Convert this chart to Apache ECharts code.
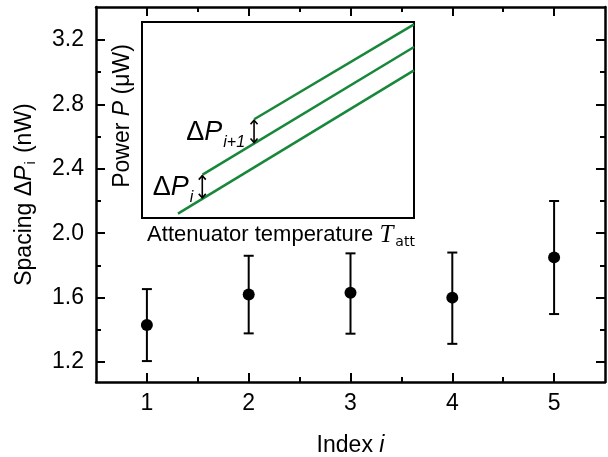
<!DOCTYPE html>
<html>
<head>
<meta charset="utf-8">
<script src="https://cdn.jsdelivr.net/npm/echarts@6/dist/echarts.min.js"></script>
<style>
  html, body { margin: 0; padding: 0; background: #fff; }
  #main { width: 608px; height: 457px; }
</style>
</head>
<body>
<div id="main"></div>
<script>
// main data: spacing per index
var indexValues = [1, 2, 3, 4, 5];
var spacingValues = [1.43, 1.62, 1.63, 1.60, 1.85];
var errLow = [1.206, 1.378, 1.376, 1.313, 1.498];
var errHigh = [1.653, 1.860, 1.875, 1.880, 2.200];

// tick labels
var xTicks = [1, 2, 3, 4, 5];
var xMinorTicks = [1.5, 2.5, 3.5, 4.5];
var yTicks = [1.2, 1.6, 2.0, 2.4, 2.8, 3.2];
var yMinorTicks = [1.4, 1.8, 2.2, 2.6, 3.0];

// inset (schematic) lines: start / end points
var insetLine1 = [[0.183, -0.188], [5.79, 3.89]];
var insetLine2 = [[0.767, 0.922], [5.79, 4.553]];
var insetLine3 = [[1.993, 2.496], [5.79, 5.199]];
// double arrows: x, y bottom, y top, label
var insetArrows = [[0.76, 0.231, 0.922, 'i'], [1.99, 1.806, 2.496, 'i+1']];
var insetTicks = [0, 1, 2, 3, 4, 5];

var FONT = 'Liberation Sans, Arial, sans-serif';
var GREEN = '#17873a';

var errData = [];
for (var i = 0; i < indexValues.length; i++) {
    errData.push([indexValues[i], errLow[i], errHigh[i]]);
}
var pointData = [];
for (var j = 0; j < indexValues.length; j++) {
    pointData.push([indexValues[j], spacingValues[j]]);
}

function tickAxis(opt) {
    // helper for the plain tick-only axes (mirror / minor)
    var a = {
        type: 'value',
        gridIndex: opt.grid || 0,
        position: opt.position,
        min: opt.min,
        max: opt.max,
        axisLine: { show: opt.line !== false, onZero: false, lineStyle: { color: '#000', width: opt.lineWidth || 2.5 } },
        axisTick: { show: true, inside: true, length: opt.len, customValues: opt.ticks, lineStyle: { color: '#000', width: opt.tickWidth || 2 } },
        axisLabel: { show: false },
        splitLine: { show: false }
    };
    return a;
}

var myChart = echarts.init(document.getElementById('main'));
var option = {
    animation: false,
    backgroundColor: '#fff',
    textStyle: { fontFamily: FONT },
    grid: [
        { left: 96, top: 7, right: 3, bottom: 75, outerBoundsMode: 'none', containLabel: false },
        { left: 142, top: 22, width: 272, height: 196, outerBoundsMode: 'none', containLabel: false, show: true, borderColor: '#000', borderWidth: 2, backgroundColor: '#fff', z: 5 }
    ],
    xAxis: [
        {
            type: 'value', gridIndex: 0, position: 'bottom', min: 0.5, max: 5.5,
            axisLine: { onZero: false, lineStyle: { color: '#000', width: 2.5 } },
            axisTick: { inside: true, length: 9, customValues: xTicks, lineStyle: { color: '#000', width: 2 } },
            axisLabel: { customValues: xTicks, color: '#000', fontSize: 23, fontFamily: FONT, margin: 10 },
            splitLine: { show: false },
            name: 'Index {i|i}',
            nameLocation: 'middle',
            nameGap: 52,
            nameTextStyle: { color: '#000', fontSize: 23, fontFamily: FONT, rich: { i: { fontSize: 23, fontStyle: 'italic', fontFamily: FONT } } }
        },
        tickAxis({ position: 'bottom', min: 0.5, max: 5.5, len: 5, ticks: xMinorTicks, line: false }),
        tickAxis({ position: 'top', min: 0.5, max: 5.5, len: 9, ticks: xTicks }),
        tickAxis({ position: 'top', min: 0.5, max: 5.5, len: 5, ticks: xMinorTicks, line: false }),
        {
            type: 'value', gridIndex: 1, position: 'bottom', min: -0.672, max: 5.79,
            axisLine: { onZero: false, lineStyle: { color: '#000', width: 2 } },
            axisTick: { inside: true, length: 4, customValues: insetTicks, lineStyle: { color: '#000', width: 1.5 } },
            axisLabel: { show: false },
            splitLine: { show: false },
            name: 'Attenuator temperature {t|T}{s|att}',
            nameLocation: 'middle',
            nameGap: 3,
            nameTextStyle: {
                color: '#000', fontSize: 22, fontFamily: FONT, padding: [0, 0, 0, 6],
                rich: {
                    t: { fontSize: 25, fontStyle: 'italic', fontFamily: 'Liberation Serif, serif', color: '#000' },
                    s: { fontSize: 14, fontFamily: 'DejaVu Sans, sans-serif', color: '#000', padding: [14, 0, 0, 2] }
                }
            }
        }
    ],
    yAxis: [
        {
            type: 'value', gridIndex: 0, position: 'left', min: 1.076, max: 3.405,
            axisLine: { show: true, onZero: false, lineStyle: { color: '#000', width: 2.5 } },
            axisTick: { show: true, inside: true, length: 9, customValues: yTicks, lineStyle: { color: '#000', width: 2 } },
            axisLabel: {
                customValues: yTicks, color: '#000', fontSize: 23, fontFamily: FONT, margin: 12,
                formatter: function (v) { return v.toFixed(1); }
            },
            splitLine: { show: false },
            name: 'Spacing \u0394{p|P}{s|i} (nW)',
            nameLocation: 'middle',
            nameGap: 58,
            nameTextStyle: {
                color: '#000', fontSize: 23, fontFamily: FONT,
                rich: {
                    p: { fontSize: 23, fontStyle: 'italic', fontFamily: FONT, color: '#000' },
                    s: { fontSize: 14, fontFamily: FONT, color: '#000', padding: [12, 2, 0, 1] }
                }
            }
        },
        tickAxis({ position: 'left', min: 1.076, max: 3.405, len: 5, ticks: yMinorTicks, line: false }),
        tickAxis({ position: 'right', min: 1.076, max: 3.405, len: 9, ticks: yTicks }),
        tickAxis({ position: 'right', min: 1.076, max: 3.405, len: 5, ticks: yMinorTicks, line: false }),
        {
            type: 'value', gridIndex: 1, position: 'left', min: -0.313, max: 5.265,
            axisLine: { show: true, onZero: false, lineStyle: { color: '#000', width: 2 } },
            axisTick: { show: true, inside: true, length: 4, customValues: insetTicks, lineStyle: { color: '#000', width: 1.5 } },
            axisLabel: { show: false },
            splitLine: { show: false },
            name: 'Power {p|P} (\u03bcW)',
            nameLocation: 'middle',
            nameGap: 8,
            nameTextStyle: {
                color: '#000', fontSize: 23, fontFamily: FONT, padding: [0, 0, 0, 8],
                rich: { p: { fontSize: 23, fontStyle: 'italic', fontFamily: FONT, color: '#000' } }
            }
        }
    ],
    series: [
        {
            // error bars
            type: 'custom',
            xAxisIndex: 0, yAxisIndex: 0,
            data: errData,
            encode: { x: 0, y: [1, 2] },
            renderItem: function (params, api) {
                var lo = api.coord([api.value(0), api.value(1)]);
                var hi = api.coord([api.value(0), api.value(2)]);
                var w = 5;
                var st = { stroke: '#000', lineWidth: 2 };
                return {
                    type: 'group',
                    children: [
                        { type: 'line', shape: { x1: lo[0], y1: lo[1], x2: hi[0], y2: hi[1] }, style: st },
                        { type: 'line', shape: { x1: lo[0] - w, y1: lo[1], x2: lo[0] + w, y2: lo[1] }, style: st },
                        { type: 'line', shape: { x1: hi[0] - w, y1: hi[1], x2: hi[0] + w, y2: hi[1] }, style: st }
                    ]
                };
            }
        },
        {
            type: 'scatter',
            xAxisIndex: 0, yAxisIndex: 0,
            data: pointData,
            symbol: 'circle',
            symbolSize: 12,
            itemStyle: { color: '#000', opacity: 1 },
            z: 3
        },
        { type: 'line', xAxisIndex: 4, yAxisIndex: 4, data: insetLine1, showSymbol: false, z: 6, lineStyle: { color: GREEN, width: 2.5 } },
        { type: 'line', xAxisIndex: 4, yAxisIndex: 4, data: insetLine2, showSymbol: false, z: 6, lineStyle: { color: GREEN, width: 2.5 } },
        { type: 'line', xAxisIndex: 4, yAxisIndex: 4, data: insetLine3, showSymbol: false, z: 6, lineStyle: { color: GREEN, width: 2.5 } },
        {
            // double arrows with the delta P labels
            type: 'custom',
            xAxisIndex: 4, yAxisIndex: 4,
            data: insetArrows,
            z: 7,
            renderItem: function (params, api) {
                var d = insetArrows[params.dataIndex];
                var b = api.coord([d[0], d[1]]);
                var t = api.coord([d[0], d[2]]);
                var x = b[0];
                var ah = 4, aw = 3.5;
                var st = { stroke: '#000', lineWidth: 1.6, fill: null };
                return {
                    type: 'group',
                    children: [
                        { type: 'line', shape: { x1: x, y1: t[1] + 1, x2: x, y2: b[1] - 1 }, style: st },
                        { type: 'polyline', shape: { points: [[x - aw, t[1] + ah + 1], [x, t[1] + 1], [x + aw, t[1] + ah + 1]] }, style: st },
                        { type: 'polyline', shape: { points: [[x - aw, b[1] - ah - 1], [x, b[1] - 1], [x + aw, b[1] - ah - 1]] }, style: st },
                        {
                            type: 'text',
                            x: x - 9,
                            y: (t[1] + b[1]) / 2 + 1,
                            style: {
                                text: '{d|\u0394}{p|P}{s|' + d[3] + '}',
                                align: 'right',
                                verticalAlign: 'middle',
                                rich: {
                                    d: { fontSize: 27, fontFamily: FONT, fill: '#000' },
                                    p: { fontSize: 27, fontStyle: 'italic', fontFamily: FONT, fill: '#000' },
                                    s: { fontSize: 16, fontStyle: 'italic', fontFamily: FONT, fill: '#000', padding: [20, 0, 0, 1] }
                                }
                            }
                        }
                    ]
                };
            }
        }
    ]
};
if (option && typeof option === "object") {
    myChart.setOption(option, true);
}
</script>
</body>
</html>
